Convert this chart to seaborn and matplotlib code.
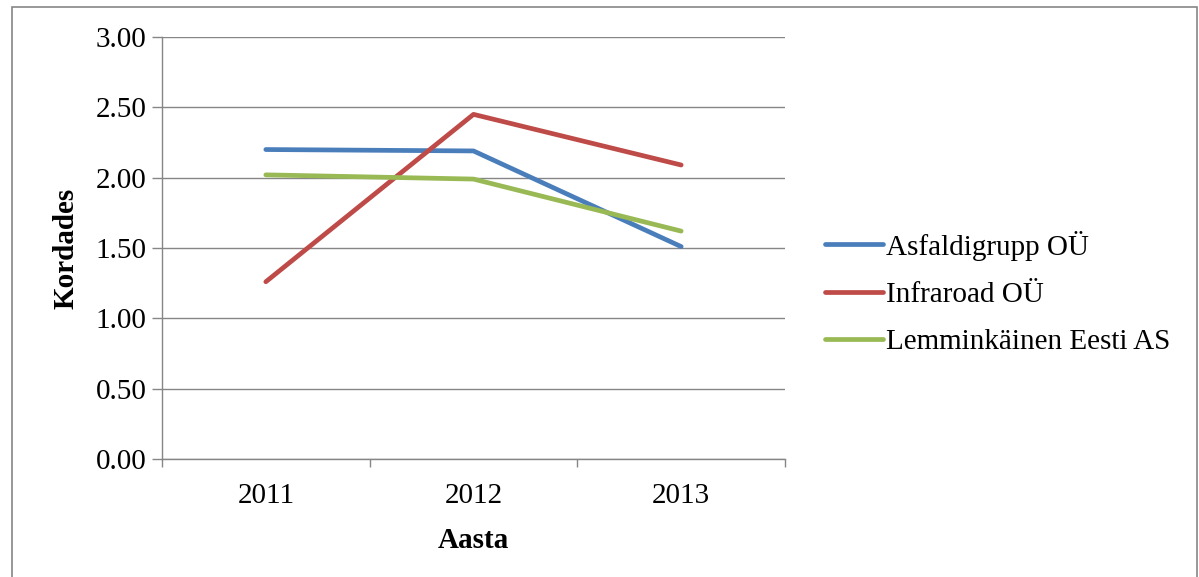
import pandas as pd
import numpy as np
import matplotlib
matplotlib.use("Agg")
import matplotlib.pyplot as plt
import seaborn as sns
from matplotlib.patches import Rectangle

# DATA
years = [2011, 2012, 2013]
series_names = ['Asfaldigrupp OÜ', 'Infraroad OÜ', 'Lemminkäinen Eesti AS']
asfaldigrupp = [2.20, 2.19, 1.51]
infraroad = [1.26, 2.45, 2.09]
lemminkainen = [2.02, 1.99, 1.62]
y_ticks = [0.0, 0.5, 1.0, 1.5, 2.0, 2.5, 3.0]

df = pd.DataFrame({
    'Aasta': years * 3,
    'Kordades': asfaldigrupp + infraroad + lemminkainen,
    'Firma': [n for n in series_names for _ in years],
})

sns.set_style("white")
plt.rcParams['font.family'] = ['Liberation Serif', 'DejaVu Serif']
plt.rcParams['text.color'] = 'black'
plt.rcParams['xtick.color'] = 'black'
plt.rcParams['ytick.color'] = 'black'
plt.rcParams['axes.labelcolor'] = 'black'

colors = ['#4A7EBB', '#BE4B48', '#98B954']
FS = 21

fig = plt.figure(figsize=(11.99, 5.77), dpi=100)
W, H = 1199, 577
ax = fig.add_axes([162 / W, 1 - 459 / H, (785 - 162) / W, (459 - 37) / H])

sns.lineplot(data=df, x='Aasta', y='Kordades', hue='Firma',
             palette=colors, linewidth=3.4, ax=ax, sort=False,
             solid_capstyle='round', legend=True)

ax.set_xlim(2010.5, 2013.5)
ax.set_ylim(0, 3)

# y axis
ax.set_yticks(y_ticks)
ax.set_yticklabels([f'{v:.2f}' for v in y_ticks], fontsize=FS)
ax.yaxis.grid(True, color='#868686', linewidth=1.0)
ax.set_axisbelow(True)

# x axis: ticks at boundaries, labels at centres
ax.set_xticks([2010.5, 2011.5, 2012.5, 2013.5])
ax.set_xticklabels([])
ax.set_xticks(years, minor=True)
ax.set_xticklabels([str(y) for y in years], minor=True, fontsize=FS)
ax.tick_params(axis='x', which='minor', length=0, pad=17)
ax.tick_params(axis='x', which='major', length=6, width=1, color='#868686',
               direction='out', bottom=True)
ax.tick_params(axis='y', length=7, width=1, color='#868686',
               direction='out', left=True, pad=4)

for s in ['top', 'right']:
    ax.spines[s].set_visible(False)
for s in ['left', 'bottom']:
    ax.spines[s].set_color('#868686')
    ax.spines[s].set_linewidth(1.0)

ax.set_xlabel('Aasta', fontsize=FS, fontweight='bold', labelpad=13)
ax.set_ylabel('Kordades', fontsize=FS, fontweight='bold', labelpad=12)

handles, labels = ax.get_legend_handles_labels()
ax.legend(handles, labels, loc='center left',
          bbox_to_anchor=(825 / W, 1 - 293 / H), bbox_transform=fig.transFigure,
          frameon=False, fontsize=FS, handlelength=2.0, handletextpad=0.1,
          borderpad=0, borderaxespad=0, labelspacing=0.72)

# outer chart border
fig.patches.append(Rectangle((12 / W, -0.1), (1197 - 12) / W, 1.1 - 7 / H,
                             transform=fig.transFigure, fill=False,
                             edgecolor='#868686', linewidth=1.2))

plt.savefig('out.png', dpi=100)
plt.close()
